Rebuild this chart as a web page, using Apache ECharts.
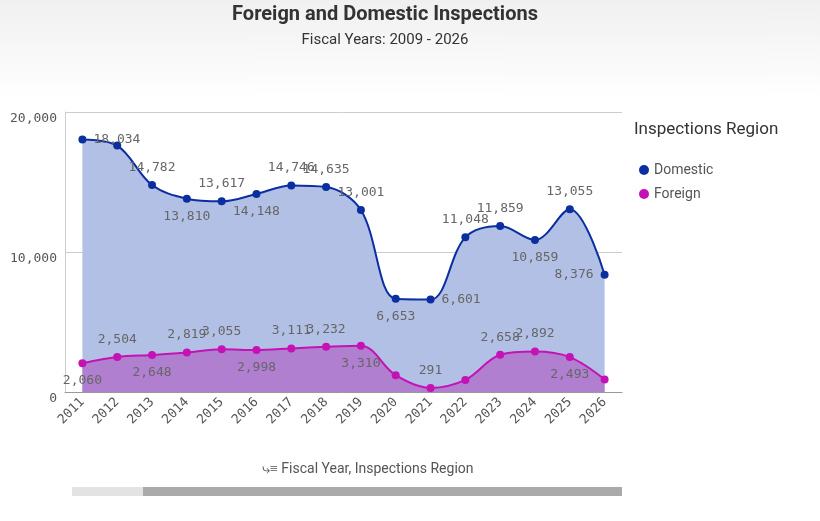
<!DOCTYPE html>
<html><head><meta charset="utf-8">
<script src="https://cdn.jsdelivr.net/npm/echarts@6/dist/echarts.min.js"></script>
<style>html,body{margin:0;padding:0;background:#fff}#c{width:820px;height:521px;background:linear-gradient(#f0f0f0,#fff 100px)}</style>
</head><body><div id="c"></div>
<script>
const years=['2011','2012','2013','2014','2015','2016','2017','2018','2019','2020','2021','2022','2023','2024','2025','2026'];
const domestic=[18034,17600,14782,13810,13617,14148,14746,14635,13001,6653,6601,11048,11859,10859,13055,8376];
const foreign=[2060,2504,2648,2819,3055,2998,3111,3232,3310,1200,291,860,2658,2892,2493,900];
const domPos=['right',null,'top','bottom','top','bottom','top','top','top','bottom','right','top','top','bottom','top','left'];
const forPos=['bottom','top','bottom','top','top','bottom','top','top','bottom',null,'top',null,'top','top','bottom',null];
const fmt=v=>v.toLocaleString('en-US');
function items(vals,pos){return vals.map((v,i)=>({value:v,label:{show:pos[i]!==null,position:pos[i]||'top'}}));}
const lab={fontFamily:'DejaVu Sans Mono',fontSize:13,color:'#666',formatter:p=>fmt(p.value),distance:7};
const chart=echarts.init(document.getElementById('c'));
chart.setOption({
 title:{text:'Foreign and Domestic Inspections',subtext:'Fiscal Years: 2009 - 2026',left:380,textAlign:'center',top:0,
  textStyle:{fontSize:20,fontWeight:'bold',color:'#333',fontFamily:'Roboto'},subtextStyle:{fontSize:15,color:'#333',fontFamily:'Roboto'},itemGap:8},
 legend:{orient:'vertical',left:634,top:158,itemGap:10,textStyle:{fontSize:14,color:'#555',fontFamily:'Roboto'},icon:'circle',itemWidth:10,itemHeight:10,data:['Domestic','Foreign']},
 grid:{left:65,right:198,top:112,bottom:129},
 xAxis:{type:'category',data:years,boundaryGap:true,axisLabel:{rotate:45,fontFamily:'DejaVu Sans Mono',fontSize:13,color:'#555',interval:0},axisLine:{lineStyle:{color:'#999'}},axisTick:{show:false}},
 yAxis:{type:'value',min:0,max:20000,interval:10000,axisLabel:{formatter:v=>fmt(v),fontFamily:'DejaVu Sans Mono',fontSize:13,color:'#555',verticalAlign:'top'},splitLine:{lineStyle:{color:'#ccc'}},axisLine:{show:true,lineStyle:{color:'#ccc'}}},
 series:[
  {name:'Domestic',type:'line',smooth:0.35,data:items(domestic,domPos),color:'#0b2fa0',symbol:'circle',symbolSize:8,lineStyle:{width:2},areaStyle:{color:'#b3c0e5',opacity:1},label:lab},
  {name:'Foreign',type:'line',smooth:0.35,data:items(foreign,forPos),color:'#c412b4',symbol:'circle',symbolSize:8,lineStyle:{width:2},areaStyle:{color:'#b07fd0',opacity:1},label:lab}
 ],
 graphic:[
  {type:'text',left:634,top:121,style:{text:'Inspections Region',fontSize:17,fill:'#333',fontFamily:'Roboto'}},
  {type:'text',left:262,top:462,style:{text:'⤷≡ Fiscal Year, Inspections Region',fontSize:14,fill:'#555',fontFamily:'Roboto'}},
  {type:'rect',shape:{x:72,y:487,width:550,height:9},style:{fill:'#e3e3e3'}},
  {type:'rect',shape:{x:143,y:487,width:479,height:9},style:{fill:'#aaaaaa'}}
 ]
});
</script></body></html>
